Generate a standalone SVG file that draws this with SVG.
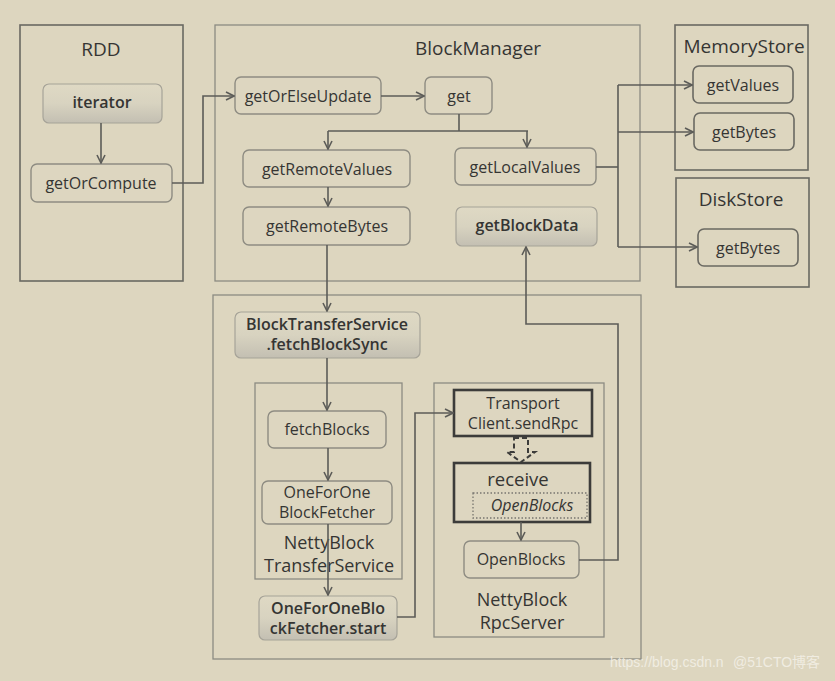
<svg xmlns="http://www.w3.org/2000/svg" width="835" height="681" viewBox="0 0 835 681">
<defs>
<linearGradient id="shade" x1="0" y1="0" x2="0" y2="1">
<stop offset="0" stop-color="#dfd9c4"/>
<stop offset="0.5" stop-color="#d8d3c0"/>
<stop offset="1" stop-color="#c3bfb2"/>
</linearGradient>
<marker id="arr" viewBox="0 0 10 10" refX="9" refY="5" markerWidth="10" markerHeight="10" markerUnits="userSpaceOnUse" orient="auto">
<path d="M1,1 L9,5 L1,9" fill="none" stroke="#5c5c58" stroke-width="1.6"/>
</marker>
</defs>
<style>
text{font-family:"Open Sans","Noto Sans","DejaVu Sans",sans-serif;fill:#353533;text-anchor:middle}
.cont{fill:none;stroke:#8c8b82;stroke-width:1.3}
.cont2{fill:none;stroke:#6a6962;stroke-width:1.6}
.node{fill:#ddd6c0;stroke:#8e8c82;stroke-width:1.4}
.shd{fill:url(#shade);stroke:#a6a398;stroke-width:1.2}
.thick{fill:#ddd6c0;stroke:#3c3c3a;stroke-width:2.6}
.t{font-size:16px}
.b{font-weight:600}
.title{font-size:19px}
.title2{font-size:18px}
.edge{fill:none;stroke:#5c5c58;stroke-width:1.6}
.edge-a{fill:none;stroke:#5c5c58;stroke-width:1.6;marker-end:url(#arr)}
</style>
<rect width="835" height="681" fill="#ddd6bf"/>

<g id="rdd">
<rect class="cont2" x="20" y="25" width="163" height="256"/>
<text class="title" x="101" y="56">RDD</text>
</g>
<g id="blockmanager">
<rect class="cont" x="215" y="25" width="425" height="256"/>
<text class="title" x="478" y="55">BlockManager</text>
</g>
<g id="memorystore">
<rect class="cont2" x="675" y="25" width="133" height="145"/>
<text class="title" x="744" y="53">MemoryStore</text>
</g>
<g id="diskstore">
<rect class="cont2" x="676" y="178" width="133" height="109"/>
<text class="title" x="741" y="206">DiskStore</text>
</g>
<g id="lower">
<rect class="cont" x="213" y="295" width="428" height="364"/>
</g>
<g id="nettyblocktransferservice">
<rect class="cont" x="255" y="383" width="147" height="196"/>
<text class="title2" x="329" y="549">NettyBlock</text>
<text class="title2" x="329" y="572">TransferService</text>
</g>
<g id="nettyblockrpcserver">
<rect class="cont" x="434" y="383" width="170" height="254"/>
<text class="title2" x="522" y="606">NettyBlock</text>
<text class="title2" x="522" y="629">RpcServer</text>
</g>

<g id="iterator">
<rect class="shd" x="43" y="84" width="119" height="39" rx="6"/>
<text class="t b" x="102" y="108">iterator</text>
</g>
<g id="getOrCompute">
<rect class="node" x="31" y="164" width="141" height="38" rx="6"/>
<text class="t" x="101" y="189">getOrCompute</text>
</g>
<g id="getOrElseUpdate">
<rect class="node" x="235" y="77" width="146" height="37" rx="6"/>
<text class="t" x="308" y="102">getOrElseUpdate</text>
</g>
<g id="get">
<rect class="node" x="425" y="77" width="67" height="37" rx="6"/>
<text class="t" x="459" y="102">get</text>
</g>
<g id="getRemoteValues">
<rect class="node" x="243" y="150" width="167" height="37" rx="6"/>
<text class="t" x="327" y="175">getRemoteValues</text>
</g>
<g id="getRemoteBytes">
<rect class="node" x="243" y="207" width="167" height="38" rx="6"/>
<text class="t" x="327" y="232">getRemoteBytes</text>
</g>
<g id="getLocalValues">
<rect class="node" x="455" y="148" width="141" height="37" rx="6"/>
<text class="t" x="525" y="173">getLocalValues</text>
</g>
<g id="getBlockData">
<rect class="shd" x="456" y="207" width="141" height="39" rx="6"/>
<text class="t b" x="527" y="231">getBlockData</text>
</g>
<g id="getValues">
<rect class="cont2" x="693" y="66" width="100" height="37" rx="6"/>
<text class="t" x="743" y="91">getValues</text>
</g>
<g id="getBytesMem">
<rect class="cont2" x="694" y="113" width="100" height="37" rx="6"/>
<text class="t" x="744" y="138">getBytes</text>
</g>
<g id="getBytesDisk">
<rect class="cont2" x="698" y="229" width="100" height="37" rx="6"/>
<text class="t" x="748" y="254">getBytes</text>
</g>
<g id="fetchBlockSync">
<rect class="shd" x="235" y="312" width="185" height="46" rx="6"/>
<text class="t b" x="327" y="330">BlockTransferService</text>
<text class="t b" x="327" y="350">.fetchBlockSync</text>
</g>
<g id="fetchBlocks">
<rect class="node" x="268" y="411" width="118" height="37" rx="6"/>
<text class="t" x="327" y="435">fetchBlocks</text>
</g>
<g id="oneForOneBlockFetcher">
<rect class="node" x="262" y="481" width="130" height="43" rx="6"/>
<text class="t" x="327" y="498">OneForOne</text>
<text class="t" x="327" y="518">BlockFetcher</text>
</g>
<g id="oneForOneStart">
<rect class="shd" x="259" y="596" width="138" height="44" rx="6"/>
<text class="t b" x="328" y="614">OneForOneBlo</text>
<text class="t b" x="328" y="634">ckFetcher.start</text>
</g>
<g id="transportClient">
<rect class="thick" x="454" y="390" width="138" height="46"/>
<text class="t" x="523" y="409">Transport</text>
<text class="t" x="523" y="429">Client.sendRpc</text>
</g>
<g id="receive">
<rect class="thick" x="454" y="463" width="136" height="59"/>
<text x="518" y="486" style="font-size:18.5px">receive</text>
<rect x="473" y="493" width="114" height="25" fill="none" stroke="#77766f" stroke-width="1.3" stroke-dasharray="1.5 2"/>
<text class="t" x="532" y="511" style="font-style:italic">OpenBlocks</text>
</g>
<g id="openBlocks">
<rect class="node" x="464" y="541" width="115" height="37" rx="6"/>
<text class="t" x="521" y="565">OpenBlocks</text>
</g>

<g id="connectors">
<path class="edge-a" d="M101,123 V163"/>
<path class="edge-a" d="M172,183 H203 V96 H234"/>
<path class="edge-a" d="M381,96 H424"/>
<path class="edge" d="M459,114 V131"/>
<path class="edge" d="M328,131 H528"/>
<path class="edge-a" d="M328,131 V149"/>
<path class="edge-a" d="M527,131 V147"/>
<path class="edge-a" d="M328,187 V206"/>
<path class="edge" d="M596,167 H618"/>
<path class="edge" d="M618,85 V247"/>
<path class="edge-a" d="M618,85 H692"/>
<path class="edge-a" d="M618,132 H693"/>
<path class="edge-a" d="M618,247 H697"/>
<path class="edge-a" d="M327,245 V311"/>
<path class="edge-a" d="M327,358 V410"/>
<path class="edge-a" d="M328,448 V480"/>
<path class="edge-a" d="M328,524 V595"/>
<path class="edge-a" d="M397,617 H415 V413 H453"/>
<path d="M514,438 H528 V452 H535 L521,462 L507,452 H514 Z" fill="none" stroke="#3c3c3a" stroke-width="2" stroke-dasharray="5 3"/>
<path class="edge-a" d="M521,522 V540"/>
<path class="edge-a" d="M579,560 H618 V324 H526 V247"/>
</g>

<text x="610" y="667" style="font-family:'Liberation Sans',Arial,sans-serif;font-size:14px;fill:#f4f1e8;text-anchor:start;opacity:0.85">https://blog.csdn.n</text>
<text x="733" y="667" style="font-family:'Liberation Sans','Noto Sans CJK SC',sans-serif;font-size:14px;fill:#f4f1e8;text-anchor:start;opacity:0.85">@51CTO博客</text>
</svg>
